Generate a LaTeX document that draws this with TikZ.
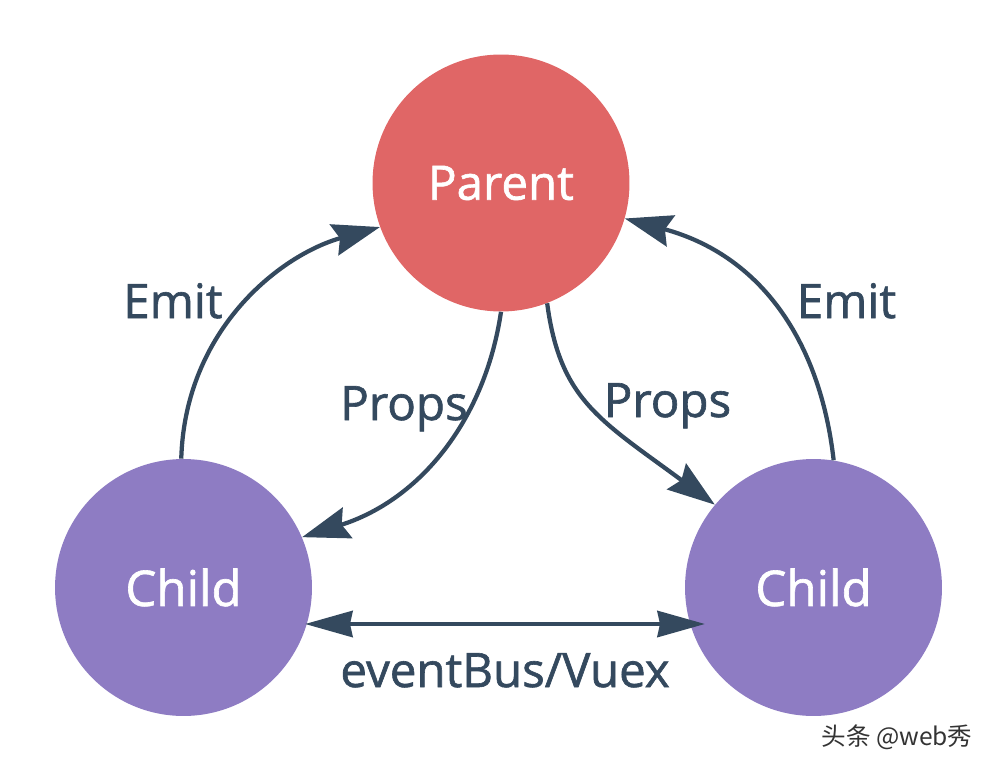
\documentclass[tikz,border=0pt]{standalone}
\usepackage{fontspec}
\setmainfont{Open Sans}
\newfontfamily\mfont{Open Sans}[FakeBold=1.3]
\newfontfamily\cjkfont{Noto Sans CJK SC}
\usetikzlibrary{arrows.meta,calc}
\definecolor{parentred}{RGB}{224,102,102}
\definecolor{childpurple}{RGB}{142,124,195}
\definecolor{arrowblue}{RGB}{52,73,94}
\tikzset{
  bubble/.style={circle, inner sep=0pt, minimum size=5.14cm, text=white},
  parentbubble/.style={bubble, fill=parentred, font=\mfont\fontsize{27pt}{32pt}\selectfont},
  childbubble/.style={bubble, fill=childpurple, font=\mfont\fontsize{28pt}{32pt}\selectfont},
  lbl/.style={text=arrowblue, font=\mfont\fontsize{27pt}{32pt}\selectfont, inner sep=0pt, anchor=base},
  conn/.style={draw=arrowblue, line width=0.085cm,
    -{Stealth[length=0.95cm, width=0.64cm, inset=0.12cm]}},
  conn2/.style={draw=arrowblue, line width=0.09cm,
    {Stealth[length=0.95cm, width=0.52cm, inset=0.05cm]}-{Stealth[length=0.95cm, width=0.52cm, inset=0.05cm]}},
}
\begin{document}
\begin{tikzpicture}[x=0.02cm, y=-0.02cm]
\useasboundingbox (0,0) rectangle (1000,773);
\node[parentbubble] (parent) at (501,183) {Parent};
\node[childbubble] (childL) at (183.5,587.5) {Child};
\node[childbubble] (childR) at (813.5,587.5) {Child};

\draw[conn] (childL.91) .. controls (185,330) and (280,255) .. (parent.200);
\draw[conn] (childR.81) .. controls (820,340) and (760,255) .. (parent.344);
\draw[conn] (parent.270) .. controls (485,420) and (420,500) .. (childL.23);
\draw[conn] (parent.291) .. controls (560,400) and (600,420) .. (childR.140);
\draw[conn2] ($(childL.center)+(121.5,36.5)$) -- ($(childR.center)+(-108.5,36.5)$);

\node[lbl] (emitL) at (173,318) {Emit};
\node[lbl] (emitR) at (846.5,318) {Emit};
\node[lbl] (propsL) at (404,420) {Props};
\node[lbl] (propsR) at (667.5,417) {Props};
\node[lbl] (bus) at (505,687) {eventBus/Vuex};
\node[text=black!80, font=\cjkfont\fontsize{14pt}{16pt}\selectfont, inner sep=0pt] (wm) at (897,737) {头条 @web秀};
\end{tikzpicture}
\end{document}
